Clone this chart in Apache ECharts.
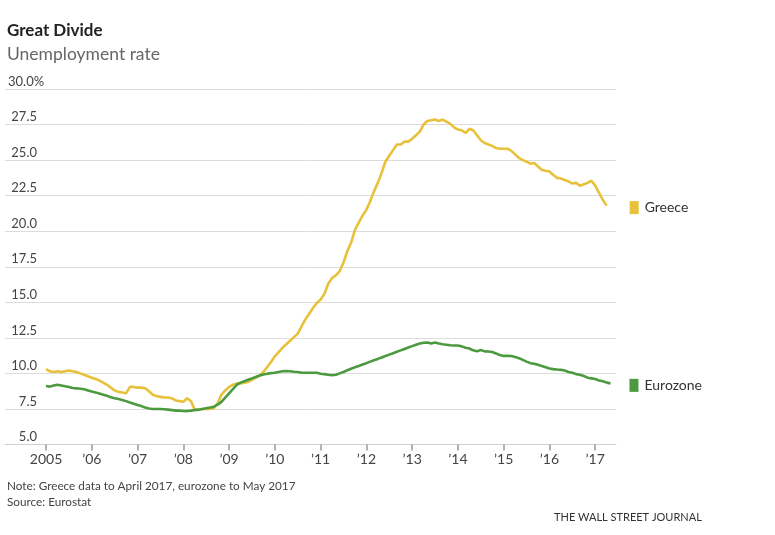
<!DOCTYPE html>
<html>
<head>
<meta charset="utf-8">
<script src="https://cdn.jsdelivr.net/npm/echarts@6/dist/echarts.min.js"></script>
<style>
html,body{margin:0;padding:0;background:#fff;}
#c{width:775px;height:535px;}
</style>
</head>
<body>
<div id="c"></div>
<script>
// Monthly unemployment rate, %, starting January 2005
const startYear = 2005;
const greece = [
10.3,10.15,10.1,10.15,10.1,10.15,10.2,10.15,10.1,10.0,9.9,9.8,
9.7,9.6,9.5,9.35,9.2,9.0,8.8,8.7,8.65,8.6,9.05,9.05,
9.0,9.0,8.95,8.75,8.5,8.4,8.35,8.3,8.3,8.25,8.1,8.05,
8.0,8.25,8.05,7.45,7.45,7.5,7.5,7.5,7.55,7.9,8.5,8.8,
9.05,9.2,9.3,9.3,9.35,9.4,9.55,9.7,9.85,10.1,10.45,10.8,
11.2,11.5,11.8,12.05,12.3,12.55,12.8,13.3,13.8,14.2,14.6,14.95,
15.2,15.6,16.3,16.7,16.9,17.2,17.8,18.6,19.2,20.1,20.6,21.1,
21.5,22.1,22.8,23.4,24.1,24.9,25.3,25.7,26.1,26.1,26.3,26.3,
26.5,26.75,27.0,27.5,27.75,27.8,27.85,27.75,27.85,27.7,27.55,27.3,
27.15,27.1,26.9,27.2,27.1,26.75,26.4,26.2,26.1,26.0,25.85,25.8,
25.8,25.8,25.65,25.4,25.15,25.0,24.9,24.75,24.8,24.55,24.3,24.25,
24.2,23.95,23.75,23.7,23.6,23.5,23.35,23.4,23.2,23.3,23.4,23.55,
23.2,22.7,22.2,21.8
];
const eurozone = [
9.12,9.07,9.15,9.2,9.15,9.1,9.05,8.97,8.95,8.92,8.88,8.8,
8.72,8.65,8.58,8.5,8.42,8.32,8.25,8.2,8.13,8.05,7.95,7.87,
7.78,7.7,7.6,7.53,7.5,7.5,7.5,7.48,7.45,7.42,7.38,7.38,
7.36,7.35,7.38,7.42,7.45,7.5,7.55,7.6,7.66,7.8,8.0,8.3,
8.6,8.9,9.2,9.35,9.45,9.55,9.65,9.75,9.85,9.92,9.98,10.02,
10.05,10.1,10.15,10.17,10.15,10.12,10.1,10.05,10.05,10.05,10.05,10.05,
9.98,9.95,9.9,9.87,9.9,10.0,10.1,10.22,10.33,10.43,10.52,10.62,
10.72,10.83,10.93,11.02,11.12,11.22,11.32,11.42,11.52,11.62,11.72,11.82,
11.92,12.02,12.1,12.15,12.17,12.1,12.17,12.1,12.05,12.02,11.98,11.96,
11.96,11.9,11.8,11.75,11.62,11.55,11.65,11.55,11.54,11.5,11.4,11.3,
11.23,11.23,11.22,11.15,11.07,10.95,10.83,10.72,10.68,10.6,10.52,10.44,
10.35,10.3,10.27,10.25,10.2,10.1,10.05,9.95,9.9,9.82,9.7,9.65,
9.6,9.5,9.45,9.35,9.3
];
const xTickYears = [2005,2006,2007,2008,2009,2010,2011,2012,2013,2014,2015,2016,2017];
const xTickLabels = ['2005','\u201906','\u201907','\u201908','\u201909','\u201910','\u201911','\u201912','\u201913','\u201914','\u201915','\u201916','\u201917'];
const yTicks = [5,7.5,10,12.5,15,17.5,20,22.5,25,27.5,30];
const yTickLabels = ['5.0','7.5','10.0','12.5','15.0','17.5','20.0','22.5','25.0','27.5','30.0%'];
const seriesNames = ['Greece','Eurozone'];
const colors = ['#e8c13a','#4c9a3f'];

const FONT = 'Lato, "Open Sans", sans-serif';
function toPairs(arr){ return arr.map((v,i)=>[startYear + i/12, v]); }

const chart = echarts.init(document.getElementById('c'), null, {renderer:'canvas'});
function endLabel(name, color, dist){
  return {
    show:true,
    formatter:'{s|}{t|' + name + '}',
    distance: dist,
    offset:[0,2],
    rich:{
      s:{width:9,height:13,backgroundColor:color},
      t:{fontFamily:FONT,fontSize:14,color:'#333',padding:[0,0,0,6]}
    }
  };
}
chart.setOption({
  animation:false,
  backgroundColor:'#fff',
  title:[
    {text:'Great Divide',left:2,top:17,textStyle:{fontFamily:FONT,fontSize:17,fontWeight:'bold',color:'#222'}},
    {text:'Unemployment rate',left:2,top:40,textStyle:{fontFamily:FONT,fontSize:17.5,fontWeight:'normal',color:'#666'}}
  ],
  graphic:[
    {type:'text',left:7,top:480,style:{text:'Note: Greece data to April 2017, eurozone to May 2017',font:'11.75px '+FONT,fill:'#444'}},
    {type:'text',left:7,top:496,style:{text:'Source: Eurostat',font:'11.75px '+FONT,fill:'#444'}},
    {type:'text',left:554,top:512,style:{text:'THE WALL STREET JOURNAL',font:'11px '+FONT,fill:'#333'}}
  ],
  grid:{left:5,top:89,width:611,height:355.5,containLabel:false},
  xAxis:{
    type:'value',
    min:2004.104,
    max:2017.454,
    interval:1,
    splitLine:{show:false},
    axisLine:{show:true,lineStyle:{color:'#d0d0d0',width:1}},
    axisTick:{show:true,customValues:xTickYears,length:6,lineStyle:{color:'#999',width:1.5}},
    axisLabel:{
      customValues:xTickYears,
      margin:8,
      fontFamily:FONT,fontSize:14,color:'#444',
      formatter:function(v){ const i = xTickYears.indexOf(Math.round(v)); return i>=0 ? xTickLabels[i] : ''; }
    }
  },
  yAxis:{
    type:'value',
    min:5,max:30,interval:2.5,
    axisLine:{show:false},
    axisTick:{show:false},
    splitLine:{show:true,lineStyle:{color:'#dcdcdc',width:1}},
    axisLabel:{
      inside:true,
      margin:0,
      verticalAlign:'bottom',
      padding:[0,0,1,0],
      formatter:function(v){
        const i = yTicks.indexOf(v);
        const s = i>=0 ? yTickLabels[i] : '';
        if (s.endsWith('%')) return '{w|' + s + '}';
        return '{v|' + s + '}';
      },
      rich:{
        v:{width:32,align:'right',fontFamily:FONT,fontSize:13,color:'#444'},
        w:{fontFamily:FONT,fontSize:13,color:'#444',padding:[0,0,0,3]}
      }
    }
  },
  series:[
    {name:seriesNames[0],type:'line',data:toPairs(greece),showSymbol:false,symbol:'none',
     lineStyle:{color:colors[0],width:2.6},itemStyle:{color:colors[0]},endLabel:endLabel(seriesNames[0],colors[0],23),z:2},
    {name:seriesNames[1],type:'line',data:toPairs(eurozone),showSymbol:false,symbol:'none',
     lineStyle:{color:colors[1],width:2.6},itemStyle:{color:colors[1]},endLabel:endLabel(seriesNames[1],colors[1],19),z:3}
  ]
});
</script>
</body>
</html>
